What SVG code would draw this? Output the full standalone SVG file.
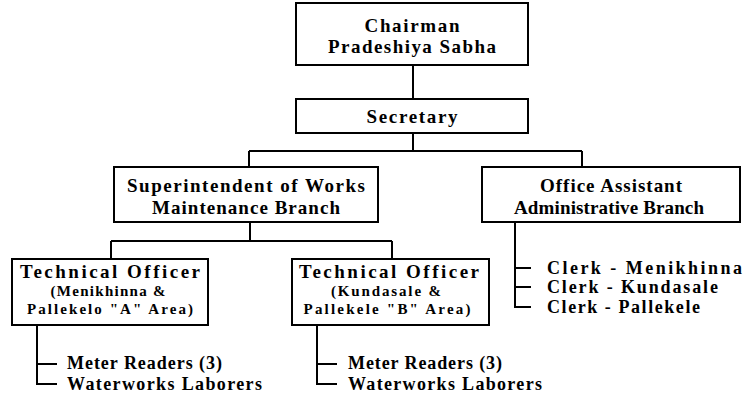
<svg xmlns="http://www.w3.org/2000/svg" width="744" height="404" viewBox="0 0 744 404">
<style>
.box{fill:#fff;stroke:#000;stroke-width:2}
.ln{stroke:#000;stroke-width:2;fill:none}
text{font-family:"Liberation Serif","Times New Roman",serif;font-weight:bold;fill:#000}
.t{font-size:19px;text-anchor:middle}
.s{font-size:15px;text-anchor:middle}
.l{font-size:18px}
</style>
<rect width="744" height="404" fill="#fff"/>
<g id="connectors">
<path class="ln" d="M413 65V99M413 133V151M249 151H582M249 151V167M582 151V167"/>
<path class="ln" d="M250 222V241M111 241H392M111 241V259M392 241V259"/>
<path class="ln" d="M37 325V384H57M37 364H57"/>
<path class="ln" d="M317 325V384H337M317 364H337"/>
<path class="ln" d="M515 222V307H531M515 268H531M515 287H531"/>
</g>
<g id="chairman">
<rect class="box" x="296" y="3" width="232" height="62"/>
<text class="t" x="412" y="32" textLength="95" lengthAdjust="spacing">Chairman</text>
<text class="t" x="412" y="53" textLength="168" lengthAdjust="spacing">Pradeshiya Sabha</text>
</g>
<g id="secretary">
<rect class="box" x="296" y="99" width="232" height="34"/>
<text class="t" x="412" y="123" textLength="91" lengthAdjust="spacing">Secretary</text>
</g>
<g id="superintendent">
<rect class="box" x="114" y="167" width="264" height="55"/>
<text class="t" x="246" y="192" textLength="238" lengthAdjust="spacing">Superintendent of Works</text>
<text class="t" x="246" y="214" textLength="188" lengthAdjust="spacing">Maintenance Branch</text>
</g>
<g id="office-assistant">
<rect class="box" x="482" y="167" width="258" height="55"/>
<text class="t" x="611" y="192" textLength="142" lengthAdjust="spacing">Office Assistant</text>
<text class="t" x="609" y="214" textLength="190" lengthAdjust="spacing">Administrative Branch</text>
</g>
<g id="technical-officer-a">
<rect class="box" x="12" y="259" width="196" height="66"/>
<text class="t" x="110" y="278" font-size="18" textLength="180" lengthAdjust="spacing">Technical Officer</text>
<text class="s" x="108" y="296" textLength="115" lengthAdjust="spacing">(Menikhinna &amp;</text>
<text class="s" x="110" y="314" textLength="166" lengthAdjust="spacing">Pallekelo "A" Area)</text>
</g>
<g id="technical-officer-b">
<rect class="box" x="292" y="259" width="197" height="66"/>
<text class="t" x="389" y="278" font-size="18" textLength="180" lengthAdjust="spacing">Technical Officer</text>
<text class="s" x="386" y="296" textLength="110" lengthAdjust="spacing">(Kundasale &amp;</text>
<text class="s" x="387" y="314" textLength="167" lengthAdjust="spacing">Pallekele "B" Area)</text>
</g>
<g id="clerks">
<text class="l" x="547" y="274" textLength="195" lengthAdjust="spacing">Clerk - Menikhinna</text>
<text class="l" x="547" y="293" textLength="171" lengthAdjust="spacing">Clerk - Kundasale</text>
<text class="l" x="547" y="313" textLength="153" lengthAdjust="spacing">Clerk - Pallekele</text>
</g>
<g id="staff-a">
<text class="l" x="67" y="369" textLength="155" lengthAdjust="spacing">Meter Readers (3)</text>
<text class="l" x="67" y="390" textLength="195" lengthAdjust="spacing">Waterworks Laborers</text>
</g>
<g id="staff-b">
<text class="l" x="348" y="369" textLength="154" lengthAdjust="spacing">Meter Readers (3)</text>
<text class="l" x="348" y="390" textLength="194" lengthAdjust="spacing">Waterworks Laborers</text>
</g>
</svg>
